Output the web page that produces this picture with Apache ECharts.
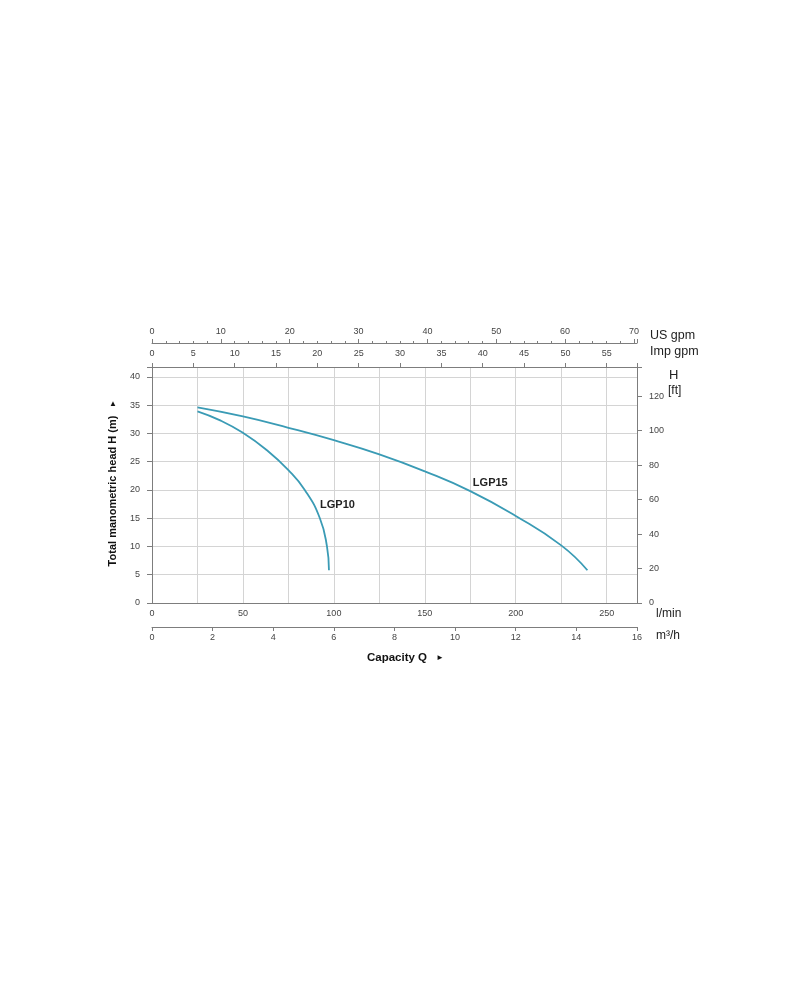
<!DOCTYPE html>
<html><head><meta charset="utf-8">
<script src="https://cdn.jsdelivr.net/npm/echarts@6/dist/echarts.min.js"></script>
<style>html,body{margin:0;padding:0;background:#fff}#c{width:803px;height:1000px}</style>
</head><body><div id="c"></div>
<script>
// Data
const seriesNames = ['LGP10', 'LGP15'];
const lgp10Flow = [25, 37.5, 50, 62.5, 75, 84, 92.3, 96.2, 97.3];          // l/min
const lgp10Head = [33.9, 32.3, 30.1, 27.2, 23.5, 20.0, 15.0, 10.0, 5.8];   // m
const lgp15Flow = [25, 50, 75, 100, 125, 150, 175, 200, 225, 239.4];
const lgp15Head = [34.6, 33.0, 31.0, 28.8, 26.3, 23.3, 19.8, 15.4, 10.2, 5.8];
const labelPos10 = [102, 17.3];
const labelPos15 = [186, 21.2];
const flowMax = 266.67;  // l/min (= 16 m3/h)
const headMax = 41.75;   // m
const unitLabels = ['US gpm', 'Imp gpm', 'l/min', 'm³/h', 'H', '[ft]'];
const yTitle = 'Total manometric head H (m)';
const xTitle = 'Capacity Q';

const FONT = '"Liberation Sans", Arial, sans-serif';
const AX = '#7d7d7d', GRID = '#d4d4d4', LBL = '#444', CURVE = '#3a9bb5';
const zip = (a, b) => a.map((v, i) => [v, b[i]]);
const multOf = (v, m) => Math.abs(v / m - Math.round(v / m)) < 1e-6;

const chart = echarts.init(document.getElementById('c'));
const lblBase = { fontFamily: FONT, fontSize: 9, color: LBL };
const line = { show: true, onZero: false, lineStyle: { color: AX } };
const nameLabel = { show: true, position: 'inside', formatter: '{b}', fontFamily: FONT, fontWeight: 'bold', fontSize: 11, color: '#222' };
chart.setOption({
  animation: false,
  grid: { left: 152, top: 367, width: 485, height: 236 },
  xAxis: [
    { type: 'value', position: 'bottom', min: 0, max: flowMax, interval: 25,
      axisLine: line, axisTick: { show: false },
      axisLabel: Object.assign({}, lblBase, { margin: 6, showMaxLabel: false,
        formatter: v => multOf(v, 50) ? String(v) : '' }),
      splitLine: { show: true, lineStyle: { color: GRID, width: 1 } } },
    { type: 'value', position: 'bottom', offset: 24, min: 0, max: flowMax * 60 / 1000, interval: 2,
      axisLine: line,
      axisTick: { show: true, length: 4, lineStyle: { color: AX } },
      axisLabel: Object.assign({}, lblBase, { margin: 6 }), splitLine: { show: false } },
    { type: 'value', position: 'top', offset: 0, min: 0, max: flowMax / 4.54609, interval: 5,
      axisLine: line,
      axisTick: { show: true, length: 4, lineStyle: { color: AX } },
      axisLabel: Object.assign({}, lblBase, { margin: 9, formatter: v => multOf(v, 5) ? String(v) : '' }),
      splitLine: { show: false } },
    { type: 'value', position: 'top', offset: 24, min: 0, max: flowMax / 3.78541, interval: 10,
      axisLine: line,
      axisTick: { show: true, length: 4, lineStyle: { color: AX } },
      minorTick: { show: true, splitNumber: 5, length: 2, lineStyle: { color: AX } },
      axisLabel: Object.assign({}, lblBase, { margin: 7, formatter: v => multOf(v, 10) ? String(v) : '' }),
      splitLine: { show: false } }
  ],
  yAxis: [
    { type: 'value', position: 'left', min: 0, max: headMax, interval: 5,
      axisLine: line,
      axisTick: { show: true, length: 5, lineStyle: { color: AX } },
      axisLabel: Object.assign({}, lblBase, { margin: 12, formatter: v => multOf(v, 5) ? String(v) : '' }),
      splitLine: { show: true, lineStyle: { color: GRID, width: 1 } } },
    { type: 'value', position: 'right', min: 0, max: headMax * 3.28084, interval: 20,
      axisLine: line,
      axisTick: { show: true, length: 5, lineStyle: { color: AX } },
      axisLabel: Object.assign({}, lblBase, { margin: 12, formatter: v => multOf(v, 20) ? String(v) : '' }),
      splitLine: { show: false } }
  ],
  series: [
    { name: seriesNames[0], type: 'line', xAxisIndex: 0, yAxisIndex: 0, data: zip(lgp10Flow, lgp10Head),
      smooth: 0.5, showSymbol: false, lineStyle: { color: CURVE, width: 1.8 },
      markPoint: { symbol: 'circle', symbolSize: 1, itemStyle: { color: 'rgba(0,0,0,0)' },
        label: nameLabel, data: [{ name: seriesNames[0], coord: labelPos10 }] } },
    { name: seriesNames[1], type: 'line', xAxisIndex: 0, yAxisIndex: 0, data: zip(lgp15Flow, lgp15Head),
      smooth: 0.5, showSymbol: false, lineStyle: { color: CURVE, width: 1.8 },
      markPoint: { symbol: 'circle', symbolSize: 1, itemStyle: { color: 'rgba(0,0,0,0)' },
        label: nameLabel, data: [{ name: seriesNames[1], coord: labelPos15 }] } }
  ],
  graphic: [
    { type: 'text', left: 650, top: 329, style: { text: unitLabels[0], font: '12.5px ' + FONT, fill: '#222' } },
    { type: 'text', left: 650, top: 345, style: { text: unitLabels[1], font: '12.5px ' + FONT, fill: '#222' } },
    { type: 'text', left: 656, top: 608, style: { text: unitLabels[2], font: '12px ' + FONT, fill: '#222' } },
    { type: 'text', left: 656, top: 630, style: { text: unitLabels[3], font: '12px ' + FONT, fill: '#222' } },
    { type: 'text', left: 669, top: 369, style: { text: unitLabels[4], font: '13px ' + FONT, fill: '#222' } },
    { type: 'text', left: 668, top: 385, style: { text: unitLabels[5], font: '12px ' + FONT, fill: '#222' } },
    { type: 'text', x: 113, y: 491, rotation: Math.PI / 2,
      style: { text: yTitle, font: 'bold 11px ' + FONT, fill: '#111', align: 'center', verticalAlign: 'middle' } },
    { type: 'text', x: 113, y: 404, style: { text: '▲', font: '8px ' + FONT, fill: '#111', align: 'center', verticalAlign: 'middle' } },
    { type: 'text', x: 397, y: 658, style: { text: xTitle, font: 'bold 11.5px ' + FONT, fill: '#111', align: 'center', verticalAlign: 'middle' } },
    { type: 'text', x: 440, y: 658, style: { text: '►', font: '8px ' + FONT, fill: '#111', align: 'center', verticalAlign: 'middle' } }
  ]
});
</script></body></html>
